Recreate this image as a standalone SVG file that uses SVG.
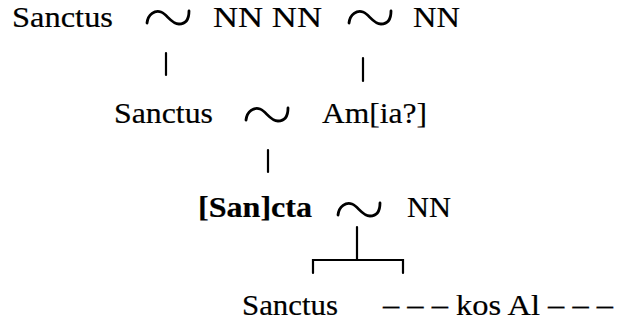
<svg xmlns="http://www.w3.org/2000/svg" width="619" height="328" viewBox="0 0 619 328">
<defs>
<style>
text{font-family:"Liberation Serif","Times New Roman",serif;font-size:30px;fill:#000;stroke:#000;stroke-width:0.2}
.b{font-weight:bold}
.ln{stroke:#000;stroke-width:2.2;fill:none;stroke-linecap:round}
.tl{stroke:#000;stroke-width:2.8;fill:none;stroke-linecap:round}
</style>
<path id="tilde" d="M0,13 C1,4 8,0 14,2 C20,4 24,14 32,14 C38,14 42,10 42,1"/>
</defs>
<rect width="619" height="328" fill="#fff"/>
<g id="n-sanctus1"><text x="12" y="27" textLength="101" lengthAdjust="spacingAndGlyphs">Sanctus</text></g>
<g id="n-nnnn"><text x="213" y="27" textLength="109" lengthAdjust="spacingAndGlyphs">NN NN</text></g>
<g id="n-nn1"><text x="413" y="27" textLength="47" lengthAdjust="spacingAndGlyphs">NN</text></g>
<g id="n-sanctus2"><text x="114" y="123" textLength="99" lengthAdjust="spacingAndGlyphs">Sanctus</text></g>
<g id="n-amia"><text x="322" y="123" textLength="105" lengthAdjust="spacingAndGlyphs">Am[ia?]</text></g>
<g id="n-sancta"><text class="b" x="198" y="217" textLength="114" lengthAdjust="spacingAndGlyphs">[San]cta</text></g>
<g id="n-nn2"><text x="407" y="217" textLength="44" lengthAdjust="spacingAndGlyphs">NN</text></g>
<g id="n-sanctus3"><text x="242" y="315" textLength="96" lengthAdjust="spacingAndGlyphs">Sanctus</text></g>
<g id="n-kosal"><text x="383" y="315" textLength="230" lengthAdjust="spacingAndGlyphs">– – – kos Al – – –</text></g>
<g id="connectors">
<use href="#tilde" class="tl" transform="translate(147,10)"/>
<use href="#tilde" class="tl" transform="translate(349,10)"/>
<use href="#tilde" class="tl" transform="translate(246,107)"/>
<use href="#tilde" class="tl" transform="translate(338,202)"/>
<line class="ln" x1="166" y1="53" x2="166" y2="75"/>
<line class="ln" x1="363" y1="58" x2="363" y2="81"/>
<line class="ln" x1="268" y1="150" x2="268" y2="172"/>
<line class="ln" x1="357" y1="227" x2="357" y2="260"/>
<path class="ln" d="M313,273 V260 H403 V273"/>
</g>
</svg>
